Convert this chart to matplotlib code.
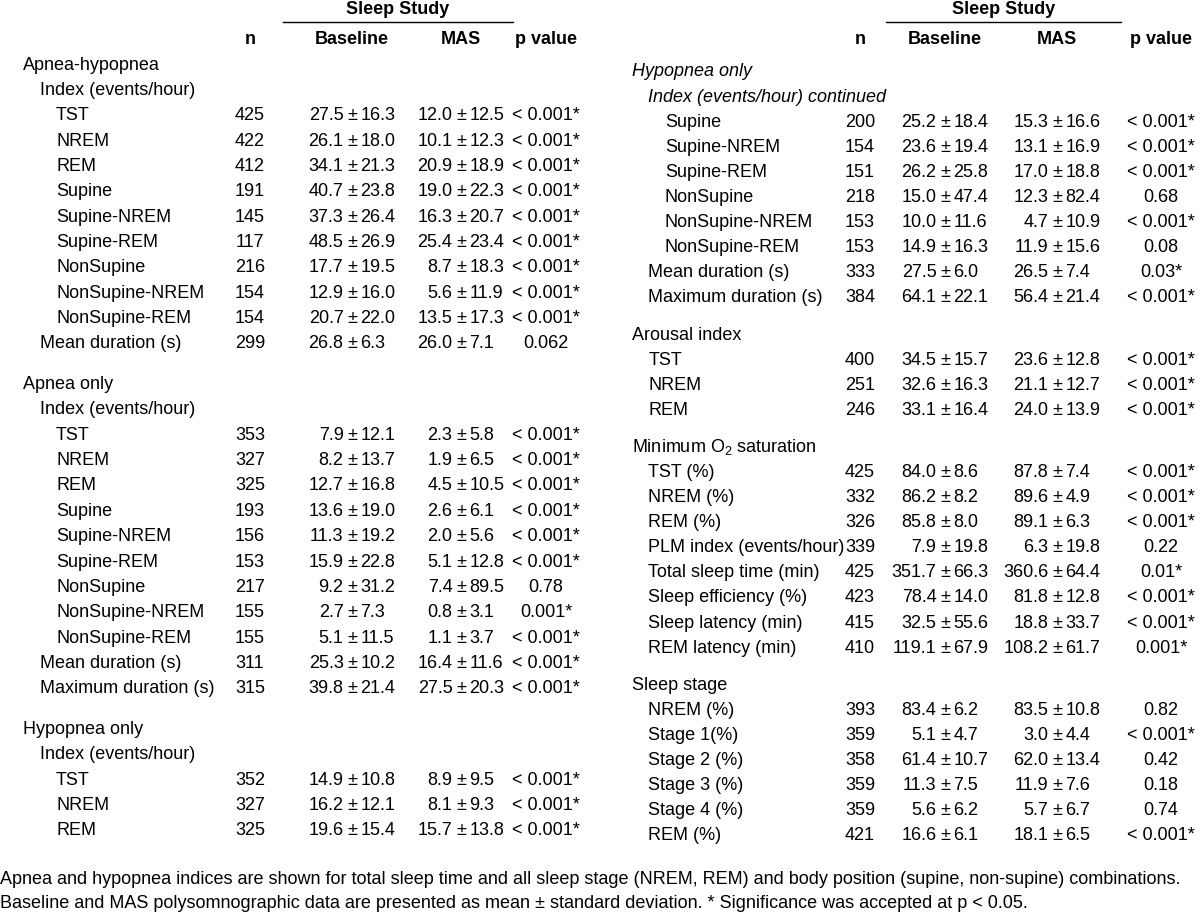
import matplotlib
matplotlib.use("Agg")
import matplotlib.pyplot as plt

plt.rcParams['font.family'] = ['Liberation Sans', 'DejaVu Sans']
plt.rcParams['mathtext.fontset'] = 'custom'
plt.rcParams['mathtext.rm'] = 'Liberation Sans'

# ---- data: left half of the table ----
left_labels = ["Apnea-hypopnea", "Index (events/hour)", "TST", "NREM", "REM", "Supine",
               "Supine-NREM", "Supine-REM", "NonSupine", "NonSupine-NREM", "NonSupine-REM",
               "Mean duration (s)",
               "Apnea only", "Index (events/hour)", "TST", "NREM", "REM", "Supine",
               "Supine-NREM", "Supine-REM", "NonSupine", "NonSupine-NREM", "NonSupine-REM",
               "Mean duration (s)", "Maximum duration (s)",
               "Hypopnea only", "Index (events/hour)", "TST", "NREM", "REM"]
left_level = [0, 1, 2, 2, 2, 2, 2, 2, 2, 2, 2, 1,
              0, 1, 2, 2, 2, 2, 2, 2, 2, 2, 2, 1, 1,
              0, 1, 2, 2, 2]
left_n = [None, None, 425, 422, 412, 191, 145, 117, 216, 154, 154, 299,
          None, None, 353, 327, 325, 193, 156, 153, 217, 155, 155, 311, 315,
          None, None, 352, 327, 325]
left_base = [None, None, "27.5|16.3", "26.1|18.0", "34.1|21.3", "40.7|23.8", "37.3|26.4",
             "48.5|26.9", "17.7|19.5", "12.9|16.0", "20.7|22.0", "26.8|6.3",
             None, None, "7.9|12.1", "8.2|13.7", "12.7|16.8", "13.6|19.0", "11.3|19.2",
             "15.9|22.8", "9.2|31.2", "2.7|7.3", "5.1|11.5", "25.3|10.2", "39.8|21.4",
             None, None, "14.9|10.8", "16.2|12.1", "19.6|15.4"]
left_mas = [None, None, "12.0|12.5", "10.1|12.3", "20.9|18.9", "19.0|22.3", "16.3|20.7",
            "25.4|23.4", "8.7|18.3", "5.6|11.9", "13.5|17.3", "26.0|7.1",
            None, None, "2.3|5.8", "1.9|6.5", "4.5|10.5", "2.6|6.1", "2.0|5.6",
            "5.1|12.8", "7.4|89.5", "0.8|3.1", "1.1|3.7", "16.4|11.6", "27.5|20.3",
            None, None, "8.9|9.5", "8.1|9.3", "15.7|13.8"]
left_p = [None, None] + ["< 0.001*"] * 9 + ["0.062",
          None, None] + ["< 0.001*"] * 6 + ["0.78", "0.001*", "< 0.001*", "< 0.001*", "< 0.001*",
          None, None, "< 0.001*", "< 0.001*", "< 0.001*"]

# ---- data: right half of the table ----
right_labels = ["Hypopnea only", "Index (events/hour) continued", "Supine", "Supine-NREM",
                "Supine-REM", "NonSupine", "NonSupine-NREM", "NonSupine-REM",
                "Mean duration (s)", "Maximum duration (s)",
                "Arousal index", "TST", "NREM", "REM",
                "Minimum O$_2$ saturation", "TST (%)", "NREM (%)", "REM (%)",
                "PLM index (events/hour)", "Total sleep time (min)", "Sleep efficiency (%)",
                "Sleep latency (min)", "REM latency (min)",
                "Sleep stage", "NREM (%)", "Stage 1(%)", "Stage 2 (%)", "Stage 3 (%)",
                "Stage 4 (%)", "REM (%)"]
right_level = [0, 1, 2, 2, 2, 2, 2, 2, 1, 1,
               0, 1, 1, 1,
               0, 1, 1, 1, 1, 1, 1, 1, 1,
               0, 1, 1, 1, 1, 1, 1]
right_italic = [True, True] + [False] * 28
right_n = [None, None, 200, 154, 151, 218, 153, 153, 333, 384,
           None, 400, 251, 246,
           None, 425, 332, 326, 339, 425, 423, 415, 410,
           None, 393, 359, 358, 359, 359, 421]
right_base = [None, None, "25.2|18.4", "23.6|19.4", "26.2|25.8", "15.0|47.4", "10.0|11.6",
              "14.9|16.3", "27.5|6.0", "64.1|22.1",
              None, "34.5|15.7", "32.6|16.3", "33.1|16.4",
              None, "84.0|8.6", "86.2|8.2", "85.8|8.0", "7.9|19.8", "351.7|66.3",
              "78.4|14.0", "32.5|55.6", "119.1|67.9",
              None, "83.4|6.2", "5.1|4.7", "61.4|10.7", "11.3|7.5", "5.6|6.2", "16.6|6.1"]
right_mas = [None, None, "15.3|16.6", "13.1|16.9", "17.0|18.8", "12.3|82.4", "4.7|10.9",
             "11.9|15.6", "26.5|7.4", "56.4|21.4",
             None, "23.6|12.8", "21.1|12.7", "24.0|13.9",
             None, "87.8|7.4", "89.6|4.9", "89.1|6.3", "6.3|19.8", "360.6|64.4",
             "81.8|12.8", "18.8|33.7", "108.2|61.7",
             None, "83.5|10.8", "3.0|4.4", "62.0|13.4", "11.9|7.6", "5.7|6.7", "18.1|6.5"]
right_p = [None, None, "< 0.001*", "< 0.001*", "< 0.001*", "0.68", "< 0.001*", "0.08",
           "0.03*", "< 0.001*",
           None, "< 0.001*", "< 0.001*", "< 0.001*",
           None, "< 0.001*", "< 0.001*", "< 0.001*", "0.22", "0.01*", "< 0.001*",
           "< 0.001*", "0.001*",
           None, "0.82", "< 0.001*", "0.42", "0.18", "0.74", "< 0.001*"]

headers = ["n", "Baseline", "MAS", "p value"]
footnote = ["Apnea and hypopnea indices are shown for total sleep time and all sleep stage (NREM, REM) "
            "and body position (supine, non-supine) combinations.",
            "Baseline and MAS polysomnographic data are presented as mean \u00b1 standard deviation. "
            "* Significance was accepted at p < 0.05."]

FS = 13.0
fig = plt.figure(figsize=(12, 9.17), dpi=100)
ax = fig.add_axes([0, 0, 1, 1])
ax.set_xlim(0, 1200)
ax.set_ylim(917, 0)
ax.axis("off")


def draw_panel(labels, levels, ns, base, mas, pv, italic, x0, cols, y0, step, gap, line_x):
    # cols: n centre, baseline pm, MAS pm, p centre
    xn, xb, xm, xp = cols
    ax.text((line_x[0] + line_x[1]) / 2, 10, "Sleep Study", ha="center", va="center",
            fontsize=FS, fontweight="bold")
    ax.plot(line_x, [22, 22], color="black", lw=1)
    for h, x in zip(headers, [xn, xb, xm, xp]):
        ax.text(x, 39, h, ha="center", va="center", fontsize=FS, fontweight="bold")
    ngap = 0
    for i, lab in enumerate(labels):
        if levels[i] == 0 and i > 0:
            ngap += 1
        y = y0 + i * step + ngap * gap
        style = "italic" if italic[i] else "normal"
        ax.text(x0 + levels[i] * 16.5, y, lab, ha="left", va="center", fontsize=FS,
                fontstyle=style)
        if ns[i] is None:
            continue
        ax.text(xn, y, str(ns[i]), ha="center", va="center", fontsize=FS)
        for val, xc in [(base[i], xb), (mas[i], xm)]:
            m, s = val.split("|")
            ax.text(xc - 8.5, y, m, ha="right", va="center", fontsize=FS)
            ax.text(xc, y, "\u00b1", ha="center", va="center", fontsize=FS)
            ax.text(xc + 8.5, y, s, ha="left", va="center", fontsize=FS)
        ax.text(xp, y, pv[i], ha="center", va="center", fontsize=FS)


draw_panel(left_labels, left_level, left_n, left_base, left_mas, left_p,
           [False] * len(left_labels), 23, (250, 352, 461, 546), 65, 25.36, 15.2, [283, 513])
draw_panel(right_labels, right_level, right_n, right_base, right_mas, right_p,
           right_italic, 632, (860, 945, 1057, 1161), 72, 25.1, 12.0, [886, 1121])

ax.text(0, 880, footnote[0], ha="left", va="center", fontsize=FS)
ax.text(0, 903, footnote[1], ha="left", va="center", fontsize=FS)

fig.savefig("out.png", dpi=100, facecolor="white")
